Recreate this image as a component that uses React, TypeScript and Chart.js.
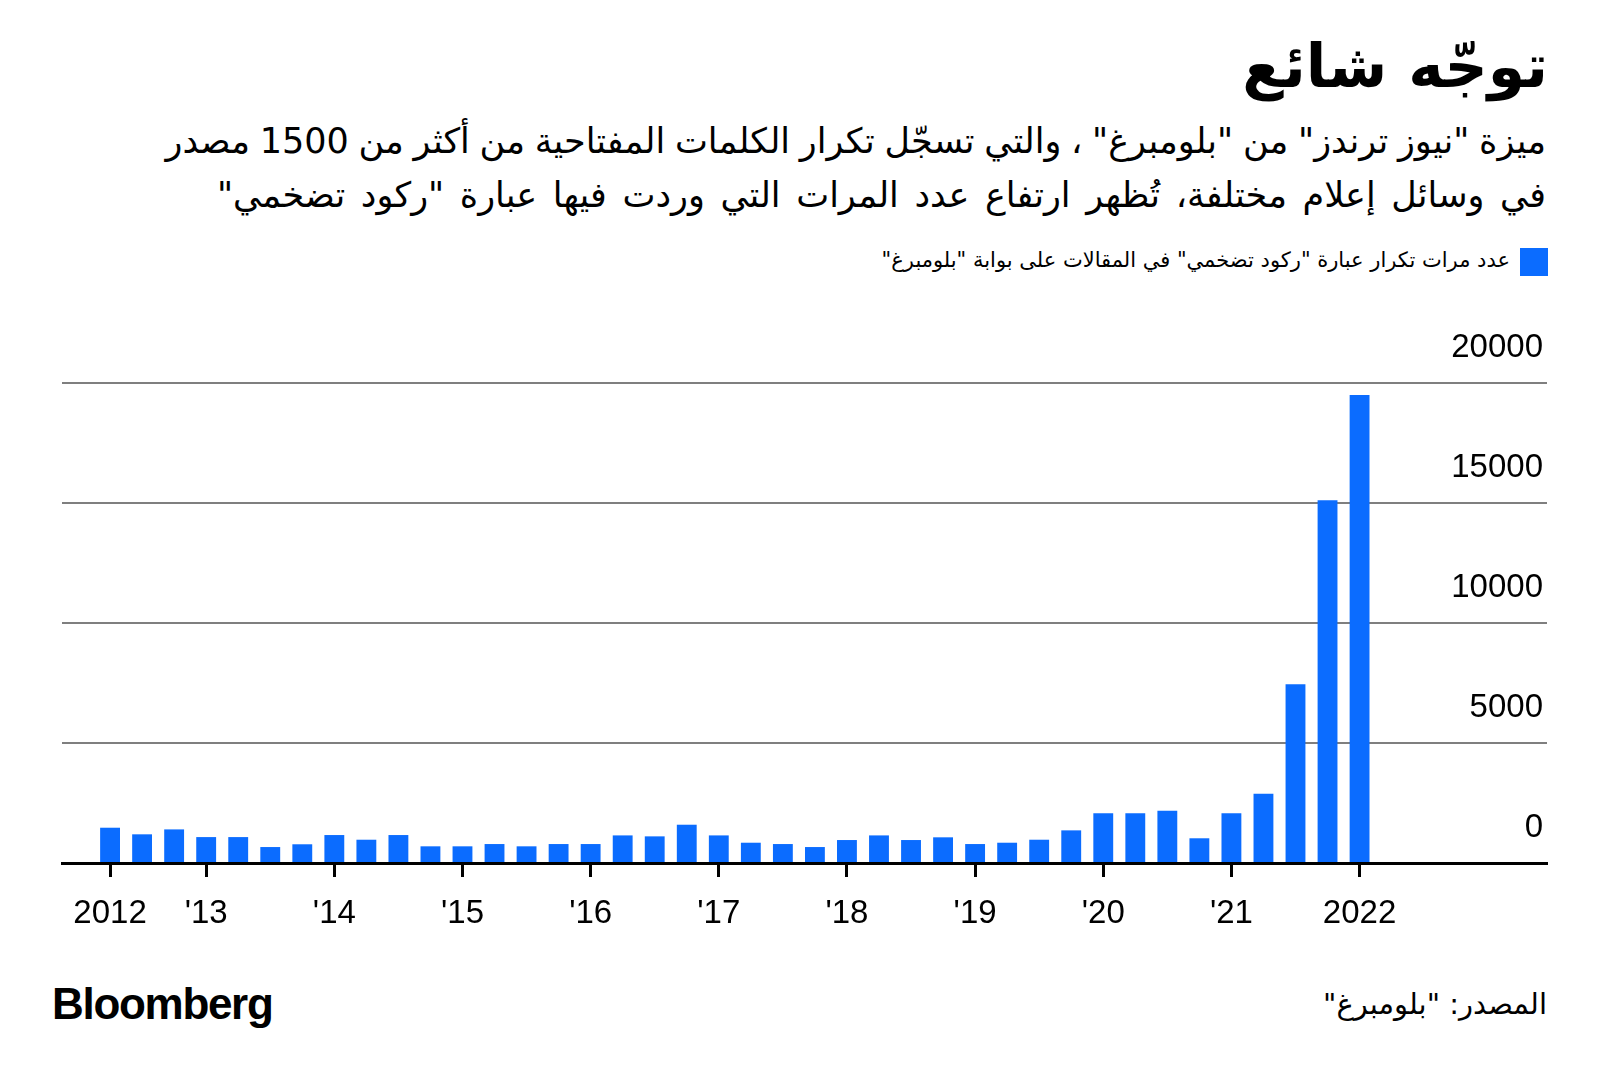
import React, { useEffect, useRef } from "react";
import { Chart, registerables } from "chart.js";

Chart.register(...registerables);

// ---- Data ----
const QUARTERS = [
  "2012 Q2", "2012 Q3", "2012 Q4",
  "2013 Q1", "2013 Q2", "2013 Q3", "2013 Q4",
  "2014 Q1", "2014 Q2", "2014 Q3", "2014 Q4",
  "2015 Q1", "2015 Q2", "2015 Q3", "2015 Q4",
  "2016 Q1", "2016 Q2", "2016 Q3", "2016 Q4",
  "2017 Q1", "2017 Q2", "2017 Q3", "2017 Q4",
  "2018 Q1", "2018 Q2", "2018 Q3", "2018 Q4",
  "2019 Q1", "2019 Q2", "2019 Q3", "2019 Q4",
  "2020 Q1", "2020 Q2", "2020 Q3", "2020 Q4",
  "2021 Q1", "2021 Q2", "2021 Q3", "2021 Q4",
  "2022 Q1",
];

const MENTIONS = [
  1470, 1195, 1400,
  1080, 1080, 665, 780,
  1165, 970, 1165, 695,
  695, 790, 695, 790,
  790, 1150, 1110, 1595,
  1150, 845, 790, 665,
  957, 1150, 957, 1070,
  790, 845, 970, 1360,
  2070, 2070, 2180, 1030,
  2070, 2885, 7450, 15115,
  19500,
];

const X_TICK_POSITIONS = [0, 3, 7, 11, 15, 19, 23, 27, 31, 35, 39];
const X_TICK_LABELS = ["2012", "'13", "'14", "'15", "'16", "'17", "'18", "'19", "'20", "'21", "2022"];
const Y_TICKS = [0, 5000, 10000, 15000, 20000];
const Y_TICK_LABELS = ["0", "5000", "10000", "15000", "20000"];

const TITLE = "توجّه شائع";
const SUBTITLE_1 = 'ميزة "نيوز ترندز" من "بلومبرغ" ، والتي تسجّل تكرار الكلمات المفتاحية من أكثر من 1500 مصدر';
const SUBTITLE_2 = 'في وسائل إعلام مختلفة، تُظهر ارتفاع عدد المرات التي وردت فيها عبارة "ركود تضخمي"';
const LEGEND_LABEL = 'عدد مرات تكرار عبارة "ركود تضخمي" في المقالات على بوابة "بلومبرغ"';
const SOURCE = 'المصدر: "بلومبرغ"';
const LOGO = "Bloomberg";

const BLUE = "#0b6cff";
const GRID = "#7f7f7f";
const AR_FONT = '"DejaVu Sans", "Noto Sans", sans-serif';
const NUM_FONT = "Liberation Sans";

function BarChart() {
  const ref = useRef<HTMLCanvasElement | null>(null);
  useEffect(() => {
    if (!ref.current) return;
    const chart = new Chart(ref.current, {
      type: "bar",
      data: {
        labels: QUARTERS,
        datasets: [
          {
            label: LEGEND_LABEL,
            data: MENTIONS.map((v, i) => ({ x: i, y: v })) as any,
            backgroundColor: BLUE,
            borderWidth: 0,
            barPercentage: 0.62,
            categoryPercentage: 1,
          },
        ],
      },
      options: {
        responsive: false,
        animation: false,
        layout: { padding: { left: 62, right: 53, top: 83, bottom: 27 } },
        plugins: { legend: { display: false }, tooltip: { enabled: false } },
        scales: {
          x: {
            type: "linear",
            min: -1.5,
            max: 44.85,
            offset: false,
            afterBuildTicks: (s: any) => {
              s.ticks = X_TICK_POSITIONS.map((v) => ({ value: v }));
            },
            afterFit: (s: any) => {
              s.height = 70;
            },
            ticks: {
              autoSkip: false,
              maxRotation: 0,
              padding: 17,
              color: "#000",
              font: { family: NUM_FONT, size: 33 },
              callback: (_v: any, i: number) => X_TICK_LABELS[i],
            },
            grid: {
              offset: false,
              drawOnChartArea: false,
              drawTicks: true,
              tickLength: 14,
              tickWidth: 3,
              tickColor: "#000",
            },
            border: { display: true, color: "#000", width: 3 },
          },
          y: {
            position: "right",
            min: 0,
            max: 20000,
            afterBuildTicks: (s: any) => {
              s.ticks = Y_TICKS.map((v) => ({ value: v }));
            },
            afterFit: (s: any) => {
              s.width = 0;
            },
            ticks: {
              mirror: true,
              padding: -4,
              labelOffset: -35,
              color: "#000",
              font: { family: NUM_FONT, size: 33 },
              callback: (_v: any, i: number) => Y_TICK_LABELS[i],
            },
            grid: {
              drawTicks: false,
              lineWidth: 2,
              color: (ctx: any) => (ctx.tick && ctx.tick.value === 0 ? "rgba(0,0,0,0)" : GRID),
            },
            border: { display: false },
          },
        },
      } as any,
    });
    return () => chart.destroy();
  }, []);
  return (
    <canvas
      ref={ref}
      width={1600}
      height={660}
      style={{ position: "absolute", left: 0, top: 300, width: 1600, height: 660 }}
    />
  );
}

export default function App() {
  const rtlText: React.CSSProperties = {
    position: "absolute",
    direction: "rtl",
    whiteSpace: "nowrap",
    color: "#000",
    fontFamily: AR_FONT,
    lineHeight: 1,
  };
  return (
    <div style={{ position: "absolute", left: 0, top: 0, width: 1600, height: 1086, background: "#fff", overflow: "hidden" }}>
      <div style={{ ...rtlText, right: 52, top: 36, fontSize: 60, fontWeight: 700 }}>{TITLE}</div>
      <div style={{ ...rtlText, right: 54, top: 124, fontSize: 35, wordSpacing: -1.4 }}>{SUBTITLE_1}</div>
      <div style={{ ...rtlText, right: 54, top: 178, fontSize: 35, wordSpacing: 4.5 }}>{SUBTITLE_2}</div>
      <div style={{ position: "absolute", left: 1520, top: 248, width: 28, height: 28, background: BLUE }} />
      <div style={{ ...rtlText, right: 90, top: 250, fontSize: 21 }}>{LEGEND_LABEL}</div>
      <BarChart />
      <div
        style={{
          position: "absolute",
          left: 52,
          top: 982,
          fontFamily: '"Liberation Sans", Arial, sans-serif',
          fontWeight: 700,
          fontSize: 44,
          letterSpacing: -1.3,
          lineHeight: 1,
          color: "#000",
        }}
      >
        {LOGO}
      </div>
      <div style={{ ...rtlText, right: 53, top: 990, fontSize: 29 }}>{SOURCE}</div>
    </div>
  );
}
